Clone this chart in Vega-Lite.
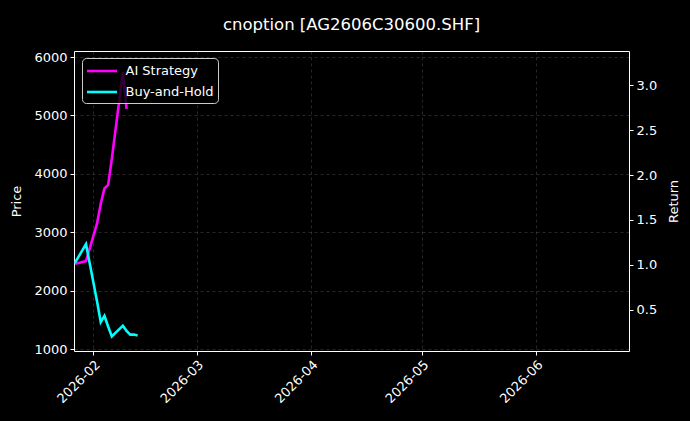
{
  "$schema": "https://vega.github.io/schema/vega-lite/v6.json",
  "description": "cnoption AG2606C30600.SHF - AI strategy vs buy-and-hold",
  "autosize": "none",
  "width": 555,
  "height": 300,
  "padding": {"left": 74, "top": 51, "right": 61, "bottom": 70},
  "background": "#000000",
  "title": {
    "text": "cnoption [AG2606C30600.SHF]",
    "color": "#ffffff",
    "fontSize": 16.5,
    "fontWeight": "normal",
    "font": "DejaVu Sans",
    "offset": 18
  },
  "layer": [
    {
      "data": {"values": []},
      "mark": {"type": "line", "color": "#000000"},
      "encoding": {
        "x": {
          "field": "date",
          "type": "temporal",
          "scale": {
            "type": "utc",
            "domain": [
              {"year": 2026, "month": 1, "date": 26, "hours": 18, "utc": true},
              {"year": 2026, "month": 6, "date": 26, "hours": 5, "utc": true}
            ]
          },
          "axis": {
            "title": null,
            "format": "%Y-%m",
            "values": [
              {"year": 2026, "month": 2, "date": 1, "utc": true},
              {"year": 2026, "month": 3, "date": 1, "utc": true},
              {"year": 2026, "month": 4, "date": 1, "utc": true},
              {"year": 2026, "month": 5, "date": 1, "utc": true},
              {"year": 2026, "month": 6, "date": 1, "utc": true}
            ],
            "labelAngle": -45,
            "labelAlign": "right",
            "labelBaseline": "top",
            "gridDash": [3, 3]
          }
        },
        "y": {
          "field": "price",
          "type": "quantitative",
          "scale": {"domain": [966, 6103], "nice": false, "zero": false},
          "axis": {
            "title": "Price",
            "orient": "left",
            "values": [1000, 2000, 3000, 4000, 5000, 6000],
            "format": "d",
            "titlePadding": 10,
            "gridDash": [3, 3]
          }
        }
      }
    },
    {
      "data": {
        "values": [
          {"date": "2026-01-27", "series": "AI Strategy", "ret": 1.01},
          {"date": "2026-01-28", "series": "AI Strategy", "ret": 1.02},
          {"date": "2026-01-29", "series": "AI Strategy", "ret": 1.03},
          {"date": "2026-01-30", "series": "AI Strategy", "ret": 1.04},
          {"date": "2026-02-02", "series": "AI Strategy", "ret": 1.46},
          {"date": "2026-02-03", "series": "AI Strategy", "ret": 1.68},
          {"date": "2026-02-04", "series": "AI Strategy", "ret": 1.85},
          {"date": "2026-02-05", "series": "AI Strategy", "ret": 1.89},
          {"date": "2026-02-06", "series": "AI Strategy", "ret": 2.18},
          {"date": "2026-02-09", "series": "AI Strategy", "ret": 3.15},
          {"date": "2026-02-10", "series": "AI Strategy", "ret": 2.74},
          {"date": "2026-01-27", "series": "Buy-and-Hold", "ret": 1.02},
          {"date": "2026-01-28", "series": "Buy-and-Hold", "ret": 1.09},
          {"date": "2026-01-29", "series": "Buy-and-Hold", "ret": 1.16},
          {"date": "2026-01-30", "series": "Buy-and-Hold", "ret": 1.23},
          {"date": "2026-02-02", "series": "Buy-and-Hold", "ret": 0.59},
          {"date": "2026-02-03", "series": "Buy-and-Hold", "ret": 0.36},
          {"date": "2026-02-04", "series": "Buy-and-Hold", "ret": 0.43},
          {"date": "2026-02-05", "series": "Buy-and-Hold", "ret": 0.31},
          {"date": "2026-02-06", "series": "Buy-and-Hold", "ret": 0.2},
          {"date": "2026-02-09", "series": "Buy-and-Hold", "ret": 0.32},
          {"date": "2026-02-10", "series": "Buy-and-Hold", "ret": 0.26},
          {"date": "2026-02-11", "series": "Buy-and-Hold", "ret": 0.22},
          {"date": "2026-02-12", "series": "Buy-and-Hold", "ret": 0.22},
          {"date": "2026-02-13", "series": "Buy-and-Hold", "ret": 0.21}
        ]
      },
      "mark": {"type": "line", "strokeWidth": 2.6},
      "encoding": {
        "x": {"field": "date", "type": "temporal"},
        "y": {
          "field": "ret",
          "type": "quantitative",
          "scale": {"domain": [0.037, 3.385], "nice": false, "zero": false},
          "axis": {
            "title": "Return",
            "orient": "right",
            "titleAngle": 270,
            "titleBaseline": "top",
            "titlePadding": 11,
            "values": [0.5, 1.0, 1.5, 2.0, 2.5, 3.0],
            "format": ".1f",
            "gridDash": [1, 2]
          }
        },
        "color": {
          "field": "series",
          "type": "nominal",
          "scale": {
            "domain": ["AI Strategy", "Buy-and-Hold"],
            "range": ["#ff00ff", "#00ffff"]
          },
          "legend": {
            "title": null,
            "orient": "none",
            "legendX": 8,
            "legendY": 7,
            "symbolType": "M-2,0L2,0",
            "symbolSize": 225,
            "symbolOffset": 7,
            "symbolStrokeWidth": 2.6,
            "labelFontSize": 13,
            "labelOffset": 14.5,
            "labelColor": "#ffffff",
            "fillColor": "rgba(0,0,0,0.8)",
            "strokeColor": "#cccccc",
            "cornerRadius": 4,
            "padding": 4,
            "rowPadding": 5
          }
        }
      }
    }
  ],
  "resolve": {"scale": {"y": "independent"}},
  "config": {
    "font": "DejaVu Sans",
    "view": {"stroke": "#ffffff", "strokeWidth": 1},
    "axis": {
      "domain": false,
      "labelColor": "#ffffff",
      "labelFontSize": 13,
      "labelFont": "DejaVu Sans",
      "titleColor": "#ffffff",
      "titleFontSize": 13,
      "titleFontWeight": "normal",
      "titleFont": "DejaVu Sans",
      "tickColor": "#ffffff",
      "tickSize": 4,
      "labelPadding": 3,
      "titlePadding": 8,
      "gridColor": "#ffffff",
      "gridOpacity": 0.25,
      "gridWidth": 0.6
    },
    "legend": {"labelFont": "DejaVu Sans"}
  }
}
